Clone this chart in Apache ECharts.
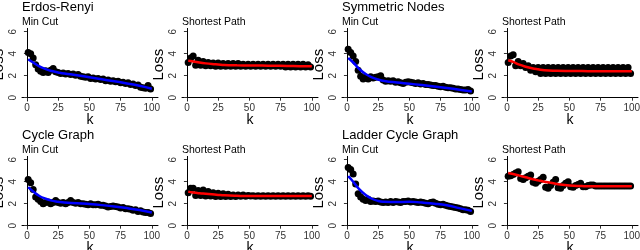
<!DOCTYPE html>
<html>
<head>
<meta charset="utf-8">
<script src="https://cdn.jsdelivr.net/npm/echarts@6/dist/echarts.min.js"></script>
<style>html,body{margin:0;padding:0;background:#fff}#c{width:640px;height:250px}</style>
</head>
<body>
<div id="c"></div>
<script>
// ---- data ----
const graphTitles = ['Erdos-Renyi', 'Symmetric Nodes', 'Cycle Graph', 'Ladder Cycle Graph'];
const taskTitles = ['Min Cut', 'Shortest Path'];
const xTicks = [0, 25, 50, 75, 100];
const yTicks = [0, 2, 4, 6];

const kPoints = [1,3,5,7,9,11,13,15,17,19,21,23,25,27,29,31,33,35,37,39,41,43,45,47,49,51,53,55,57,59,61,63,65,67,69,71,73,75,77,79,81,83,85,87,89,91,93,95,97,99];
const kFit = [1,5,10,15,20,25,30,40,50,60,70,80,90,100];

const erMinCut = [4.1,4.0,3.6,3.0,2.6,2.4,2.3,2.45,2.3,2.5,2.65,2.35,2.3,2.2,2.25,2.15,2.2,2.1,2.15,2.05,2.1,1.95,1.9,1.85,1.9,1.75,1.8,1.7,1.75,1.65,1.7,1.55,1.6,1.5,1.55,1.45,1.5,1.35,1.4,1.3,1.35,1.2,1.25,1.1,1.15,0.95,0.9,0.85,1.1,0.8];
const erMinCutFit = [3.5,3.2,2.85,2.6,2.42,2.3,2.2,2.05,1.85,1.67,1.5,1.3,1.08,0.82];

const erShortest = [3.2,3.6,3.8,2.95,3.4,2.95,3.3,2.9,3.2,2.9,3.15,2.85,3.15,2.85,3.1,2.85,3.1,2.85,3.1,2.85,3.1,2.85,3.05,2.85,3.05,2.85,3.05,2.85,3.05,2.85,3.05,2.85,3.05,2.85,3.05,2.85,3.05,2.85,3.05,2.8,3.05,2.8,3.05,2.8,3.05,2.8,3.05,2.8,3.0,2.8];
const erShortestFit = [3.35,3.3,3.2,3.12,3.06,3.02,2.98,2.95,2.93,2.92,2.9,2.89,2.87,2.85];

const snMinCut = [4.4,4.1,3.8,3.3,2.5,1.95,1.7,1.85,1.7,1.9,1.8,1.85,1.9,2.0,1.6,1.5,1.55,1.5,1.55,1.4,1.45,1.35,1.3,1.4,1.45,1.4,1.35,1.3,1.35,1.25,1.3,1.2,1.2,1.15,1.1,1.1,1.05,1.0,1.05,0.95,0.9,0.9,0.85,0.8,0.8,0.75,0.7,0.7,0.75,0.6];
const snMinCutFit = [3.6,3.2,2.6,2.15,1.85,1.65,1.52,1.38,1.27,1.15,1.02,0.88,0.73,0.57];

const snShortest = [3.2,3.8,3.9,2.9,3.3,2.9,3.1,2.75,2.9,2.5,2.75,2.35,2.75,2.2,2.75,2.2,2.75,2.2,2.75,2.2,2.75,2.2,2.75,2.2,2.75,2.2,2.75,2.2,2.75,2.2,2.75,2.2,2.75,2.2,2.75,2.2,2.75,2.2,2.75,2.2,2.75,2.2,2.75,2.2,2.75,2.2,2.75,2.2,2.75,2.2];
const snShortestFit = [3.4,3.25,3.0,2.82,2.68,2.58,2.5,2.45,2.43,2.42,2.41,2.4,2.4,2.4];

const cgMinCut = [4.2,3.9,3.3,2.6,2.4,2.2,2.0,2.1,2.15,2.0,2.1,2.3,2.1,2.05,2.1,2.0,2.1,2.3,2.1,2.05,2.1,2.0,2.0,1.95,1.9,2.0,1.9,1.9,1.95,1.85,1.85,1.8,1.7,1.75,1.8,1.75,1.7,1.6,1.65,1.55,1.55,1.5,1.4,1.45,1.3,1.35,1.25,1.2,1.2,1.1];
const cgMinCutFit = [3.5,3.1,2.7,2.45,2.28,2.18,2.1,2.05,1.97,1.87,1.75,1.6,1.42,1.2];

const cgShortest = [3.0,3.4,3.4,2.75,3.2,2.75,3.25,2.7,3.1,2.7,3.0,2.65,2.95,2.65,2.9,2.65,2.85,2.65,2.8,2.65,2.8,2.68,2.78,2.68,2.75,2.7,2.72,2.68,2.72,2.68,2.72,2.68,2.72,2.68,2.72,2.68,2.72,2.68,2.72,2.68,2.72,2.68,2.72,2.68,2.72,2.68,2.72,2.68,2.72,2.68];
const cgShortestFit = [3.1,3.02,2.95,2.9,2.85,2.8,2.76,2.72,2.7,2.7,2.7,2.7,2.7,2.7];

const lcMinCut = [5.3,5.1,4.7,3.8,2.9,2.6,2.4,2.3,2.4,2.2,2.25,2.2,2.25,2.15,2.1,2.15,2.1,2.2,2.1,2.2,2.15,2.1,2.2,2.2,2.25,2.15,2.2,2.15,2.1,2.15,2.1,2.05,2.0,2.1,2.15,2.05,1.95,1.9,1.95,1.85,1.8,1.75,1.7,1.65,1.6,1.55,1.45,1.45,1.4,1.3];
const lcMinCutFit = [4.5,4.0,3.3,2.8,2.45,2.25,2.18,2.15,2.18,2.1,2.0,1.85,1.6,1.35];

const lcShortest = [4.5,4.55,4.65,4.8,4.9,4.3,4.2,4.35,4.5,4.6,3.95,3.85,4.05,4.2,4.4,3.5,3.4,3.65,3.95,4.2,3.45,3.4,3.65,3.85,4.0,3.55,3.5,3.65,3.75,3.85,3.55,3.55,3.65,3.7,3.7,3.6,3.6,3.62,3.62,3.6,3.6,3.62,3.6,3.6,3.62,3.6,3.6,3.6,3.6,3.6];
const lcShortestFit = [4.8,4.7,4.55,4.4,4.25,4.12,4.0,3.8,3.65,3.6,3.58,3.58,3.58,3.58];

// panels in reading order: [points, fit, lineColor, titleIndex or -1, taskIndex]
const panels = [
  [erMinCut, erMinCutFit, '#0000FF', 0, 0],
  [erShortest, erShortestFit, '#FF0000', -1, 1],
  [snMinCut, snMinCutFit, '#0000FF', 1, 0],
  [snShortest, snShortestFit, '#FF0000', -1, 1],
  [cgMinCut, cgMinCutFit, '#0000FF', 2, 0],
  [cgShortest, cgShortestFit, '#FF0000', -1, 1],
  [lcMinCut, lcMinCutFit, '#0000FF', 3, 0],
  [lcShortest, lcShortestFit, '#FF0000', -1, 1]
];

// ---- layout ----
const colLeft = [22, 182, 342, 502];
const rowTop = [28.4, 156.4];
const gW = 136, gH = 72.6;
const FONT = 'Liberation Sans, Arial, sans-serif';

const grids = [], xAxes = [], yAxes = [], series = [], graphics = [];
panels.forEach((p, i) => {
  const col = i % 4, row = Math.floor(i / 4);
  const left = colLeft[col], top = rowTop[row];
  grids.push({left: left, top: top, width: gW, height: gH, containLabel: false, outerBoundsMode: 'none'});
  xAxes.push({
    type: 'value', gridIndex: i, min: -3.95, max: 104.95,
    splitLine: {show: false},
    axisLine: {show: true, lineStyle: {color: '#000', width: 1}},
    axisTick: {show: true, length: 3, lineStyle: {color: '#333'}, customValues: xTicks},
    axisLabel: {customValues: xTicks, fontSize: 10, color: '#333', margin: 2.5, fontFamily: FONT},
    name: 'k', nameLocation: 'middle', nameGap: 12, nameMoveOverlap: false,
    nameTextStyle: {fontSize: 14, color: '#000', fontFamily: FONT}
  });
  yAxes.push({
    type: 'value', gridIndex: i, min: -0.3, max: 6.3,
    splitLine: {show: false},
    axisLine: {show: true, lineStyle: {color: '#000', width: 1}},
    axisTick: {show: true, length: 3, lineStyle: {color: '#333'}, customValues: yTicks},
    axisLabel: {customValues: yTicks, fontSize: 10, color: '#333', margin: 3.5, rotate: 90, fontFamily: FONT},
    name: 'Loss', nameLocation: 'middle', nameGap: 15.5, nameMoveOverlap: false,
    nameTextStyle: {fontSize: 15, color: '#000', fontFamily: FONT}
  });
  series.push({
    type: 'scatter', xAxisIndex: i, yAxisIndex: i,
    data: kPoints.map((k, j) => [k, p[0][j]]),
    symbol: 'circle', symbolSize: 7,
    itemStyle: {color: '#000', opacity: 1}, z: 2, silent: true
  });
  series.push({
    type: 'line', xAxisIndex: i, yAxisIndex: i,
    data: kFit.map((k, j) => [k, p[1][j]]),
    smooth: true, symbol: 'none',
    lineStyle: {color: p[2], width: 2.5}, z: 3, silent: true
  });
  if (p[3] >= 0) {
    graphics.push({type: 'text', x: left, y: top - 20.5, style: {text: graphTitles[p[3]], font: '13px ' + FONT, fill: '#000', verticalAlign: 'middle'}});
  }
  graphics.push({type: 'text', x: left, y: top - 6.5, style: {text: taskTitles[p[4]], font: '10.5px ' + FONT, fill: '#000', verticalAlign: 'middle'}});
});

const chart = echarts.init(document.getElementById('c'), null, {renderer: 'canvas'});
chart.setOption({
  animation: false,
  backgroundColor: '#fff',
  grid: grids, xAxis: xAxes, yAxis: yAxes, series: series,
  graphic: graphics
});
</script>
</body>
</html>
